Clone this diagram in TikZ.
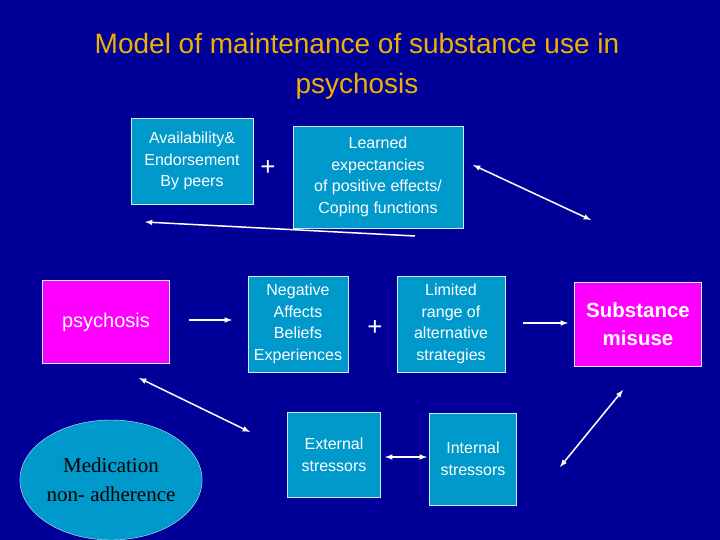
\documentclass[tikz,border=0pt]{standalone}
\usepackage{fontspec}
\usetikzlibrary{shapes.geometric}
\setmainfont{Liberation Sans}
\newfontfamily\serifz{Liberation Serif}
\definecolor{bg}{HTML}{000099}
\definecolor{bx}{HTML}{0099CC}
\definecolor{mg}{HTML}{FF00FF}
\definecolor{ttl}{HTML}{F0B000}
\tikzset{box/.style={draw=white!80!bx,line width=0.6pt,fill=bx,text=white,align=center,inner sep=0pt,font=\fontsize{16}{21.5}\selectfont},
mbox/.style={box,fill=mg},
arr/.style={draw=white,line width=1.5pt,-latex},
darr/.style={draw=white,line width=1.5pt,latex-latex}}
\begin{document}
\begin{tikzpicture}[x=1pt,y=-1pt]
\fill[bg] (0,0) rectangle (720,540);
\useasboundingbox (0,0) rectangle (720,540);
\node[text=ttl,align=center,font=\fontsize{28}{40}\selectfont] (t) at (357,66) {Model of maintenance of substance use in\\psychosis};
\node[box,minimum width=122,minimum height=86] (av) at (192,161) {Availability\&\\Endorsement\\By peers};
\node[text=white,font=\fontsize{26}{26}\selectfont] (p1) at (268,168) {+};
\node[box,minimum width=170,minimum height=102] (le) at (378,177) {Learned\\expectancies\\of positive effects/\\Coping functions};
\node[mbox,minimum width=127,minimum height=83,font=\fontsize{20}{24}\selectfont] (ps) at (106,322) {psychosis};
\node[box,minimum width=100,minimum height=96] (ne) at (298,324) {Negative\\Affects\\Beliefs\\Experiences};
\node[text=white,font=\fontsize{26}{26}\selectfont] (p2) at (375,328) {+};
\node[box,minimum width=108,minimum height=96] (li) at (451,324) {Limited\\range of\\alternative\\strategies};
\node[mbox,minimum width=127,minimum height=84,font=\fontsize{20.5}{28}\selectfont\bfseries] (sm) at (638,324) {Substance\\misuse};
\node[ellipse,draw=white!80!bx,fill=bx,minimum width=176,minimum height=120,inner sep=0pt,align=center,font=\serifz\fontsize{21}{29}\selectfont] (me) at (111,480) {Medication\\non- adherence};
\node[box,minimum width=93,minimum height=85] (ex) at (334,455) {External\\stressors};
\node[box,minimum width=87,minimum height=92] (in) at (473,459) {Internal\\stressors};
\coordinate (a1) at (473,165); \coordinate (a2) at (591,220);
\coordinate (b1) at (415,236); \coordinate (b2) at (145,222);
\coordinate (c1) at (189,320); \coordinate (c2) at (232,320);
\coordinate (d1) at (523,323); \coordinate (d2) at (568,323);
\coordinate (e1) at (139,378); \coordinate (e2) at (250,432);
\coordinate (f1) at (385,457); \coordinate (f2) at (427,457);
\coordinate (g1) at (560,467); \coordinate (g2) at (623,390);
\draw[darr] (a1) -- (a2);
\draw[arr] (b1) -- (b2);
\draw[arr] (c1) -- (c2);
\draw[arr] (d1) -- (d2);
\draw[darr] (e1) -- (e2);
\draw[darr] (f1) -- (f2);
\draw[darr] (g1) -- (g2);
\end{tikzpicture}
\end{document}
